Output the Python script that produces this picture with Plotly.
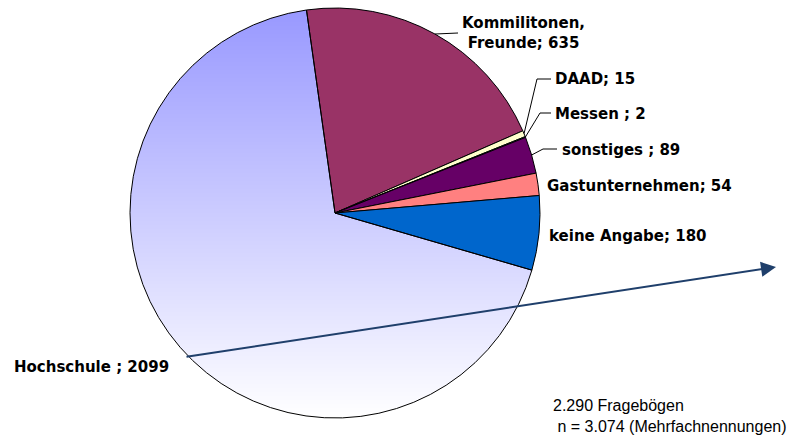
import base64
import math
import struct
import zlib

import plotly.graph_objects as go

# ---------------- data ----------------
categories = ["Kommilitonen,<br>Freunde", "DAAD", "Messen", "sonstiges",
              "Gastunternehmen", "keine Angabe", "Hochschule"]
values = [635, 15, 2, 89, 54, 180, 2099]
separators = ["; ", "; ", " ; ", " ; ", "; ", "; ", " ; "]
colors = ["#993366", "#FFFFCC", "#CCFFFF", "#660066", "#FF8080", "#0066CC",
          "rgba(0,0,0,0)"]  # Hochschule: gradient shown beneath
note_lines = ["2.290 Fragebögen", "\u00a0n = 3.074 (Mehrfachnennungen)"]

# ---------------- layout helpers ----------------
W, H = 790, 437
CX, CY, R = 335, 213, 205          # pie centre / radius in pixels
ROTATION = -8                       # first slice starts 8° left of 12 o'clock


def px(x):
    return x / W


def py(y):
    return 1 - y / H


# vertical gradient disc image for the Hochschule slice
def gradient_disc_png(size, top, bottom):
    rows = []
    r = size / 2
    for j in range(size):
        t = j / (size - 1)
        col = bytes(int(round(top[k] + (bottom[k] - top[k]) * t)) for k in range(3))
        row = bytearray()
        dy = j + 0.5 - r
        for i in range(size):
            dx = i + 0.5 - r
            a = 255 if dx * dx + dy * dy <= r * r else 0
            row += col + bytes([a])
        rows.append(b"\x00" + bytes(row))
    raw = b"".join(rows)

    def chunk(tag, data):
        c = struct.pack(">I", len(data)) + tag + data
        return c + struct.pack(">I", zlib.crc32(tag + data) & 0xFFFFFFFF)

    png = b"\x89PNG\r\n\x1a\n"
    png += chunk(b"IHDR", struct.pack(">IIBBBBB", size, size, 8, 6, 0, 0, 0))
    png += chunk(b"IDAT", zlib.compress(raw, 9))
    png += chunk(b"IEND", b"")
    return "data:image/png;base64," + base64.b64encode(png).decode()


disc = gradient_disc_png(2 * R, (152, 152, 255), (255, 255, 255))

fig = go.Figure()
fig.add_trace(go.Pie(
    labels=categories,
    values=values,
    sort=False,
    direction="clockwise",
    rotation=ROTATION,
    textinfo="none",
    hoverinfo="label+value",
    marker=dict(colors=colors, line=dict(color="black", width=1)),
    domain=dict(x=[px(CX - R), px(CX + R)], y=[py(CY + R), py(CY - R)]),
))

# ---------------- labels ----------------
label_font = dict(family="DejaVu Sans", size=15, color="black", weight="bold")
label_pos = {  # text anchor (pixels) : x, y, xanchor
    "Kommilitonen,<br>Freunde": (523, 33, "center"),
    "DAAD": (553, 79, "left"),
    "Messen": (553, 114, "left"),
    "sonstiges": (560, 150, "left"),
    "Gastunternehmen": (545, 186, "left"),
    "keine Angabe": (547, 236, "left"),
    "Hochschule": (12, 367, "left"),
}
annotations = []
for cat, val, sep in zip(categories, values, separators):
    x, y, xa = label_pos[cat]
    annotations.append(dict(
        x=px(x), y=py(y), xref="paper", yref="paper", xanchor=xa, yanchor="middle",
        text=f"{cat}{sep}{val}", showarrow=False, font=label_font, align="center"))

annotations.append(dict(
    x=px(551), y=py(416), xref="paper", yref="paper", xanchor="left", yanchor="middle",
    text="<br>".join(note_lines), showarrow=False, align="left",
    font=dict(family="Liberation Sans, Arial", size=16, color="black")))

# big arrow
annotations.append(dict(
    x=px(776), y=py(267), xref="paper", yref="paper",
    ax=185 - 776, ay=357 - 267, axref="pixel", ayref="pixel",
    text="", showarrow=True, arrowhead=2, arrowsize=1.5, arrowwidth=2,
    arrowcolor="#1F3F6B", standoff=0, startstandoff=0))

# ---------------- leader lines ----------------
total = sum(values)
mid_angle = {}
acc = 0
for cat, val in zip(categories, values):
    start = 90 - ROTATION - acc / total * 360
    acc += val
    end = 90 - ROTATION - acc / total * 360
    mid_angle[cat] = math.radians((start + end) / 2)

leader_bends = {
    "Kommilitonen,<br>Freunde": [(458, 33)],
    "DAAD": [(537, 79), (551, 79)],
    "Messen": [(540, 113), (551, 113)],
    "sonstiges": [(543, 149), (557, 149)],
}
shapes = []
for cat, pts in leader_bends.items():
    a = mid_angle[cat]
    sx, sy = CX + R * math.cos(a), CY - R * math.sin(a)
    path = f"M {px(sx)},{py(sy)} " + " ".join(f"L {px(x)},{py(y)}" for x, y in pts)
    shapes.append(dict(type="path", path=path, xref="paper", yref="paper",
                       line=dict(color="black", width=1)))

fig.update_layout(
    width=W, height=H,
    margin=dict(l=0, r=0, t=0, b=0),
    paper_bgcolor="white",
    plot_bgcolor="white",
    showlegend=False,
    annotations=annotations,
    shapes=shapes,
    images=[dict(source=disc, xref="paper", yref="paper",
                 x=px(CX - R), y=py(CY - R), sizex=2 * R / W, sizey=2 * R / H,
                 xanchor="left", yanchor="top", sizing="stretch", layer="below")],
)

fig.write_html(
    "out.html",
    config={"displayModeBar": False},
    post_script="document.body.style.margin='0';document.body.style.overflow='hidden';",
)
